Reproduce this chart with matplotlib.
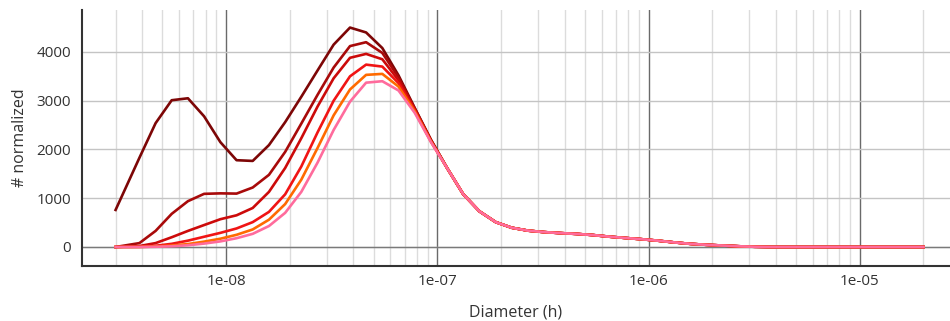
import numpy as np
import matplotlib
matplotlib.use('Agg')
import matplotlib.pyplot as plt
from matplotlib.ticker import FixedLocator, FixedFormatter, LogLocator, NullFormatter

plt.rcParams['font.family'] = ['Open Sans', 'DejaVu Sans']

# size bins (m), shared by every run
diameter = [3.0e-9, 3.89e-9, 4.64e-9, 5.53e-9, 6.60e-9, 7.87e-9, 9.40e-9,
            1.121e-8, 1.337e-8, 1.596e-8, 1.904e-8, 2.27e-8, 2.71e-8, 3.23e-8,
            3.86e-8, 4.60e-8, 5.49e-8, 6.55e-8, 7.82e-8, 9.33e-8,
            1.112e-7, 1.327e-7, 1.584e-7, 1.89e-7, 2.25e-7, 2.69e-7, 3.21e-7,
            3.83e-7, 4.57e-7, 5.45e-7, 6.50e-7, 7.76e-7, 9.25e-7,
            1.104e-6, 1.317e-6, 1.571e-6, 1.875e-6, 2.24e-6, 2.67e-6, 3.18e-6,
            3.80e-6, 4.53e-6, 5.41e-6, 6.45e-6, 7.70e-6, 9.19e-6,
            1.097e-5, 1.309e-5, 1.561e-5, 1.863e-5, 2.0e-5]

# above ~1e-7 all runs collapse onto the same tail
tail = [1620, 1080, 730, 510, 395, 335, 305, 285, 268, 245, 212, 185, 160,
        130, 95, 65, 45, 30, 15, 5, 0, 0, 0, 0, 0, 0, 0, 0, 0, 0, 0]

run1 = [760, 1830, 2540, 3010, 3050, 2680, 2150, 1780, 1765, 2090, 2560,
        3080, 3620, 4150, 4500, 4400, 4080, 3520, 2850, 2200]
run2 = [0, 80, 330, 680, 940, 1090, 1100, 1095, 1220, 1480, 1950,
        2530, 3120, 3680, 4120, 4200, 3980, 3480, 2840, 2190]
run3 = [0, 20, 80, 200, 330, 450, 570, 650, 800, 1130, 1620,
        2230, 2880, 3460, 3880, 3960, 3850, 3420, 2820, 2180]
run4 = [0, 5, 25, 65, 130, 210, 290, 380, 510, 720, 1080,
        1650, 2350, 3000, 3500, 3740, 3700, 3360, 2800, 2170]
run5 = [0, 0, 10, 30, 60, 110, 170, 250, 360, 560, 880,
        1380, 2030, 2700, 3230, 3530, 3550, 3290, 2780, 2160]
run6 = [0, 0, 5, 15, 35, 70, 115, 180, 270, 430, 700,
        1130, 1730, 2400, 2980, 3370, 3400, 3210, 2750, 2150]

runs = [run1, run2, run3, run4, run5, run6]
colors = ['#7d0606', '#a80a0a', '#cc0a0a', '#f01414', '#ff6a00', '#ff6b9c']

fig = plt.figure(figsize=(9.5, 3.21), dpi=100)
ax = fig.add_axes([0.0863, 0.1713, 0.9137, 0.7975])

for vals, c in zip(runs, colors):
    ax.plot(diameter, vals + tail, color=c, lw=1.9, solid_joinstyle='round')

ax.set_xscale('log')
ax.set_xlim(2.08e-9, 2.67e-5)
ax.set_ylim(-390, 4860)

ax.xaxis.set_major_locator(FixedLocator([1e-8, 1e-7, 1e-6, 1e-5]))
ax.xaxis.set_major_formatter(FixedFormatter(['1e-08', '1e-07', '1e-06', '1e-05']))
ax.xaxis.set_minor_locator(LogLocator(base=10, subs=np.arange(2, 10)))
ax.xaxis.set_minor_formatter(NullFormatter())
ax.set_yticks([0, 1000, 2000, 3000, 4000])

ax.grid(True, which='minor', axis='x', color='#dcdcdc', lw=1)
ax.grid(True, which='major', axis='x', color='#6a6a6a', lw=1)
ax.grid(True, which='major', axis='y', color='#c4c4c4', lw=1)
ax.axhline(0, color='#7a7a7a', lw=1, zorder=1)
ax.set_axisbelow(True)

for s in ['top', 'right']:
    ax.spines[s].set_visible(False)
for s in ['left', 'bottom']:
    ax.spines[s].set_color('#333333')
    ax.spines[s].set_linewidth(1.5)

ax.tick_params(which='both', length=0, labelsize=11, colors='#333333')
ax.tick_params(axis='y', pad=8)
ax.tick_params(axis='x', pad=6)

ax.set_xlabel('Diameter (h)', fontsize=11.5, color='#333333', labelpad=11)
ax.set_ylabel('# normalized', fontsize=11.5, color='#333333', labelpad=6)

fig.savefig('out.png', dpi=100)
